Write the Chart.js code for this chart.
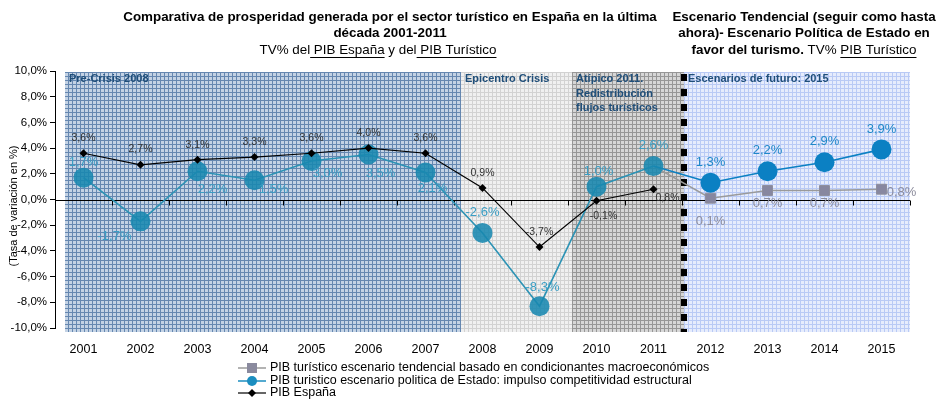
<!DOCTYPE html>
<html>
<head>
<meta charset="utf-8">
<script src="https://cdn.jsdelivr.net/npm/chart.js@4.4.1/dist/chart.umd.min.js"></script>
<style>
  html, body { margin: 0; padding: 0; background: #fff; }
  canvas { display: block; }
</style>
</head>
<body>
<canvas id="chart" width="938" height="400"></canvas>
<script>
// data
const years = ['2001', '2002', '2003', '2004', '2005', '2006', '2007', '2008',
    '2009', '2010', '2011', '2012', '2013', '2014', '2015'];
const pibEspana = [3.6, 2.7, 3.1, 3.3, 3.6, 4.0, 3.6, 0.9, -3.7, -0.1, 0.8,
    null, null, null, null];
const pibTurPolitica = [1.7, -1.7, 2.2, 1.5, 3.0, 3.5, 2.1, -2.6, -8.3, 1.0, 2.6,
    1.3, 2.2, 2.9, 3.9];
const pibTurTendencial = [null, null, null, null, null, null, null, null, null, null, 2.6,
    0.1, 0.7, 0.7, 0.8];
const yMin = -10, yMax = 10, yStep = 2;

const legendLabels = [
    'PIB turístico escenario tendencial basado en condicionantes macroeconómicos',
    'PIB turistico escenario politica de Estado: impulso competitividad estructural',
    'PIB España'
];

// label placement (dx, dy from the point), null = no label
const espanaLabelPos = [[0, -15], [0, -16], [0, -15], [0, -15], [0, -15], [0, -15], [0, -15],
    [0, -15], [0, -15], [7, 15], [14, 9]];
const politicaLabelPos = [[0, -15], [-26, 15], [15, 18], [19, 9], [16, 12], [12, 19], [7, 16],
    [0, -20], [3, -19], [2, -15], [0, -21], [0, -20], [0, -21], [0, -21], [0, -20]];
const tendencialLabelPos = [null, null, null, null, null, null, null, null, null, null, null,
    [0, 23], [0, 13], [0, 13], [20, 3]];

const fmt = v => v.toFixed(1).replace('.', ',') + '%';
const FONT = 'Arial, "Liberation Sans", sans-serif';

function makePattern(bg, line) {
    const c = document.createElement('canvas');
    c.width = 4; c.height = 4;
    const g = c.getContext('2d');
    g.fillStyle = bg;
    g.fillRect(0, 0, 4, 4);
    g.fillStyle = line;
    g.fillRect(0, 0, 4, 1);
    g.fillRect(0, 0, 1, 4);
    return g.createPattern(c, 'repeat');
}

// shaded periods, bounds in category index units
const periods = [
    { from: -0.33, to: 6.62, bg: '#c3d2e4', line: '#6587b0', text: ['Pre-Crisis 2008'] },
    { from: 6.62, to: 8.57, bg: '#f0f0f0', line: '#d2d2d2', text: ['Epicentro Crisis'] },
    { from: 8.57, to: 10.54, bg: '#d6d6d6', line: '#969696', text: ['Atípico 2011.', 'Redistribución', 'flujos turísticos'] },
    { from: 10.54, to: 14.5, bg: '#e6ecfc', line: '#b9caf5', text: ['Escenarios de futuro: 2015'] }
];

const backgroundPlugin = {
    id: 'periodsBg',
    beforeDatasetsDraw(chart) {
        const { ctx, chartArea, scales: { x, y } } = chart;
        const top = y.getPixelForValue(yMax) + 1;
        const bottom = y.getPixelForValue(yMin) + 4;
        ctx.save();
        periods.forEach(p => {
            if (!p.pattern) p.pattern = makePattern(p.bg, p.line);
            const x0 = Math.round(x.getPixelForValue(p.from));
            const x1 = Math.round(Math.min(x.getPixelForValue(p.to), chartArea.right));
            ctx.fillStyle = p.pattern;
            ctx.fillRect(x0, top, x1 - x0, bottom - top);
            ctx.fillStyle = '#1f4e79';
            ctx.font = 'bold 11px ' + FONT;
            ctx.textBaseline = 'middle';
            ctx.textAlign = 'left';
            p.text.forEach((t, i) => ctx.fillText(t, x0 + 4, top + 7 + i * 14.5));
        });

        // zero line with category ticks
        const y0 = Math.round(y.getPixelForValue(0)) + 0.5;
        ctx.strokeStyle = '#000';
        ctx.lineWidth = 1;
        ctx.beginPath();
        ctx.moveTo(chartArea.left, y0);
        ctx.lineTo(chartArea.right, y0);
        for (let i = 1; i <= years.length; i++) {
            const tx = Math.round(x.getPixelForValue(i - 0.5)) + 0.5;
            ctx.moveTo(tx, y0);
            ctx.lineTo(tx, y0 + 5);
        }
        ctx.stroke();

        // separator between past and scenarios
        const sx = Math.round(x.getPixelForValue(periods[3].from));
        ctx.strokeStyle = '#000';
        ctx.lineWidth = 6;
        ctx.setLineDash([7, 8]);
        ctx.beginPath();
        ctx.moveTo(sx, top + 2);
        ctx.lineTo(sx, bottom);
        ctx.stroke();
        ctx.restore();
    }
};

const labelsPlugin = {
    id: 'valueLabels',
    afterDatasetsDraw(chart) {
        const { ctx } = chart;
        ctx.save();
        ctx.textAlign = 'center';
        ctx.textBaseline = 'middle';
        chart.data.datasets.forEach((ds, di) => {
            const meta = chart.getDatasetMeta(di);
            meta.data.forEach((pt, i) => {
                const v = ds.data[i];
                const pos = ds.labelPos[i];
                if (v === null || !pos) return;
                ctx.font = ds.labelFont;
                ctx.fillStyle = typeof ds.labelColor === 'function' ? ds.labelColor(i) : ds.labelColor;
                ctx.fillText(fmt(v), pt.x + pos[0], pt.y + pos[1]);
            });
        });
        ctx.restore();
    }
};

function drawRuns(ctx, runs, cx, cy) {
    let total = 0;
    runs.forEach(r => {
        ctx.font = (r.bold ? 'bold ' : '') + '13.4px ' + FONT;
        r.w = ctx.measureText(r.t).width;
        total += r.w;
    });
    let x = cx - total / 2;
    runs.forEach(r => {
        ctx.font = (r.bold ? 'bold ' : '') + '13.4px ' + FONT;
        ctx.fillText(r.t, x, cy);
        if (r.u) {
            ctx.fillRect(x, cy + 7, r.w, 1);
        }
        x += r.w;
    });
}

const titlePlugin = {
    id: 'titles',
    afterDraw(chart) {
        const { ctx } = chart;
        ctx.save();
        ctx.fillStyle = '#000';
        ctx.textAlign = 'left';
        ctx.textBaseline = 'middle';
        drawRuns(ctx, [{ t: 'Comparativa de prosperidad generada por el sector turístico en España en la última', bold: true }], 390, 17);
        drawRuns(ctx, [{ t: 'década 2001-2011', bold: true }], 390, 33);
        drawRuns(ctx, [{ t: 'TV% del' }, { t: ' PIB España', u: true }, { t: ' y del' }, { t: ' PIB Turístico', u: true }], 378, 50);
        drawRuns(ctx, [{ t: 'Escenario Tendencial (seguir como hasta', bold: true }], 804, 17);
        drawRuns(ctx, [{ t: 'ahora)- Escenario Política de Estado en', bold: true }], 804, 33);
        drawRuns(ctx, [{ t: 'favor del turismo.', bold: true }, { t: ' TV% ' }, { t: 'PIB Turístico', u: true }], 804, 50);

        // y axis title
        ctx.save();
        ctx.translate(14, 206);
        ctx.rotate(-Math.PI / 2);
        ctx.textAlign = 'center';
        ctx.font = '11px ' + FONT;
        ctx.fillText('(Tasa de variación en %)', 0, 0);
        ctx.restore();

        // legend
        const lx0 = 238, lx1 = 266, lxm = 252, tx = 270;
        const rows = [368, 381, 393];
        ctx.font = '12.5px ' + FONT;
        ctx.textAlign = 'left';
        rows.forEach((ry, i) => {
            ctx.strokeStyle = ['#9a9a9a', '#1b8ec0', '#000'][i];
            ctx.lineWidth = i === 2 ? 1.2 : 1.5;
            ctx.beginPath();
            ctx.moveTo(lx0, ry);
            ctx.lineTo(lx1, ry);
            ctx.stroke();
            if (i === 0) {
                ctx.fillStyle = '#8a8a9e';
                ctx.fillRect(lxm - 5, ry - 5, 10, 10);
            } else if (i === 1) {
                ctx.fillStyle = '#1b8ec0';
                ctx.beginPath();
                ctx.arc(lxm, ry, 5, 0, Math.PI * 2);
                ctx.fill();
            } else {
                ctx.fillStyle = '#000';
                ctx.beginPath();
                ctx.moveTo(lxm, ry - 4);
                ctx.lineTo(lxm + 4, ry);
                ctx.lineTo(lxm, ry + 4);
                ctx.lineTo(lxm - 4, ry);
                ctx.closePath();
                ctx.fill();
            }
            ctx.fillStyle = '#000';
            ctx.fillText(legendLabels[i], tx, ry);
        });
        ctx.restore();
    }
};

const pastTeal = '#2c93b5';
const futureBlue = '#0b80c3';

new Chart(document.getElementById('chart').getContext('2d'), {
    type: 'line',
    data: {
        labels: years,
        datasets: [
            {
                label: legendLabels[2],
                data: pibEspana,
                borderColor: '#000',
                borderWidth: 1.2,
                pointStyle: 'rectRot',
                pointRadius: 4,
                pointBackgroundColor: '#000',
                pointBorderWidth: 0,
                order: 0,
                labelPos: espanaLabelPos,
                labelFont: '10.5px ' + FONT,
                labelColor: '#333'
            },
            {
                label: legendLabels[1],
                data: pibTurPolitica,
                borderWidth: 1.6,
                borderColor: pastTeal,
                segment: {
                    borderColor: c => c.p0DataIndex >= 10 ? futureBlue : pastTeal
                },
                pointStyle: 'circle',
                pointRadius: 10,
                pointBorderWidth: 0,
                pointBackgroundColor: c => c.dataIndex > 10 ? futureBlue : 'rgba(24,135,175,0.88)',
                order: 1,
                labelPos: politicaLabelPos,
                labelFont: '13px ' + FONT,
                labelColor: i => i > 10 ? '#1f88c8' : '#3a9ec4'
            },
            {
                label: legendLabels[0],
                data: pibTurTendencial,
                borderColor: '#9a9a9a',
                borderWidth: 1.5,
                pointStyle: 'rect',
                pointRadius: pibTurTendencial.map((v, i) => i === 10 ? 0 : 7),
                pointBackgroundColor: '#8787a0',
                pointBorderColor: '#8e8e9c',
                pointBorderWidth: 1,
                order: 2,
                labelPos: tendencialLabelPos,
                labelFont: '13px ' + FONT,
                labelColor: '#8c8c9c'
            }
        ]
    },
    options: {
        responsive: false,
        animation: false,
        devicePixelRatio: 1,
        layout: { padding: { top: 71, right: 28, bottom: 42, left: 0 } },
        plugins: {
            legend: { display: false },
            tooltip: { enabled: false },
            title: { display: false }
        },
        scales: {
            x: {
                offset: true,
                grid: { display: false, drawTicks: false, offset: true },
                border: { display: false },
                ticks: {
                    color: '#000',
                    font: { size: 12.5, family: FONT },
                    padding: 14,
                    maxRotation: 0,
                    autoSkip: false
                },
                afterFit: s => { s.height = 30; }
            },
            y: {
                min: yMin,
                max: yMax,
                ticks: {
                    stepSize: yStep,
                    color: '#000',
                    font: { size: 11.5, family: FONT },
                    padding: 3,
                    callback: v => fmt(v)
                },
                grid: { drawOnChartArea: false, tickLength: 5, color: '#000' },
                border: { color: '#000' },
                afterFit: s => { s.width = 55; }
            }
        }
    },
    plugins: [backgroundPlugin, labelsPlugin, titlePlugin]
});
</script>
</body>
</html>
